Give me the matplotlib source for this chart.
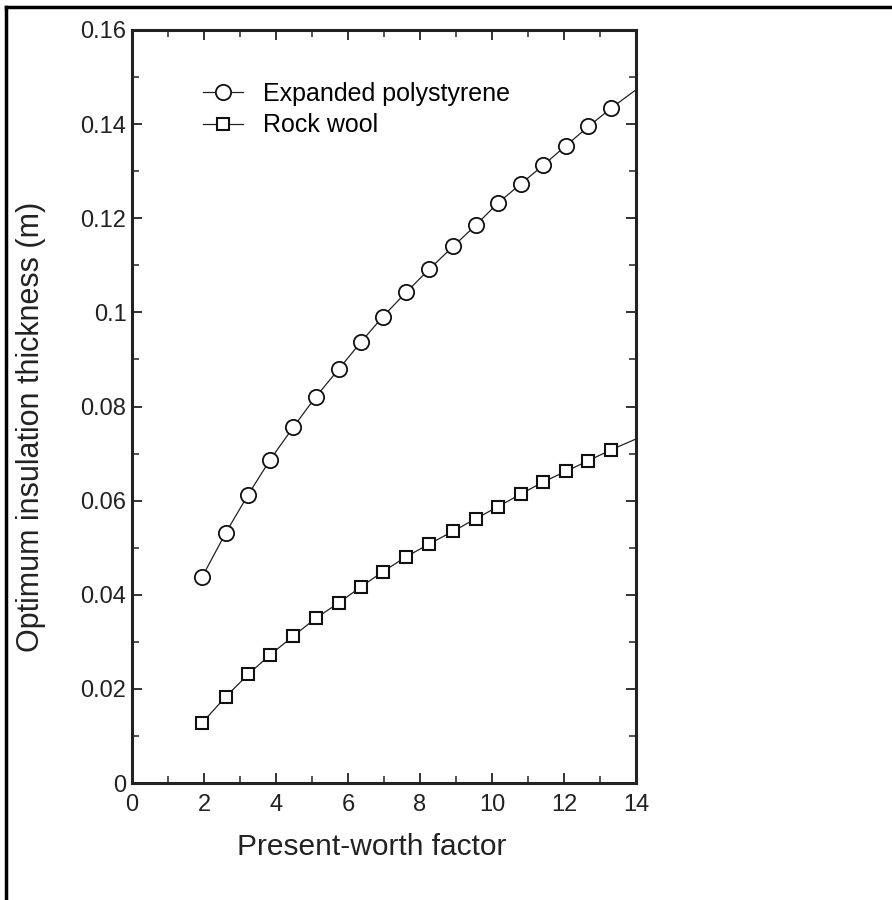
import matplotlib
matplotlib.use("Agg")
import matplotlib.pyplot as plt
from matplotlib.lines import Line2D
from matplotlib.ticker import MultipleLocator, FuncFormatter

plt.rcParams['font.family'] = ['Liberation Sans', 'DejaVu Sans']

# Present-worth factor (last value is where the curve meets the right axis, no marker)
pwf = [1.95, 2.6, 3.23, 3.83, 4.48, 5.1, 5.75, 6.36, 6.97, 7.62,
       8.26, 8.92, 9.56, 10.16, 10.8, 11.43, 12.05, 12.68, 13.31, 14.0]

# Optimum insulation thickness (m)
eps = [0.0438, 0.0531, 0.0613, 0.0686, 0.0756, 0.0820, 0.0880, 0.0937, 0.0991, 0.1043,
       0.1092, 0.1140, 0.1186, 0.1232, 0.1273, 0.1313, 0.1354, 0.1395, 0.1434, 0.1473]
rock_wool = [0.0128, 0.0183, 0.0231, 0.0272, 0.0312, 0.0350, 0.0383, 0.0417, 0.0449, 0.0481,
             0.0508, 0.0535, 0.0562, 0.0587, 0.0614, 0.0640, 0.0662, 0.0685, 0.0708, 0.0731]

labels = ["Expanded polystyrene", "Rock wool"]

fig = plt.figure(figsize=(8.92, 9.0), dpi=100)
ax = fig.add_axes([132 / 892, 1 - 783 / 900, 504 / 892, 753 / 900])

marks = list(range(len(pwf) - 1))
ax.plot(pwf, eps, color="#222222", lw=0.9, marker="o", ms=11, mfc="white",
        mec="#111111", mew=1.3, markevery=marks, label=labels[0])
ax.plot(pwf, rock_wool, color="#222222", lw=0.9, marker="s", ms=8.5, mfc="white",
        mec="#111111", mew=1.5, markevery=marks, label=labels[1])

ax.set_xlim(0, 14)
ax.set_ylim(0, 0.16)
ax.xaxis.set_major_locator(MultipleLocator(2))
ax.xaxis.set_minor_locator(MultipleLocator(1))
ax.yaxis.set_major_locator(MultipleLocator(0.02))
ax.yaxis.set_minor_locator(MultipleLocator(0.01))
ax.yaxis.set_major_formatter(FuncFormatter(lambda v, p: f"{v:.2f}".rstrip("0").rstrip(".") if v else "0"))

ax.tick_params(which="both", direction="in", top=True, right=True, color="#222222")
ax.tick_params(which="major", length=7, width=1.3)
ax.tick_params(which="minor", length=5, width=1.1)
ax.tick_params(axis="x", labelsize=17, pad=8, colors="#222222")
ax.tick_params(axis="y", labelsize=17, pad=4, colors="#222222")
for s in ax.spines.values():
    s.set_linewidth(2.2)
    s.set_color("#222222")

ax.set_xlabel("Present-worth factor", fontsize=21.5, color="#222222")
ax.xaxis.set_label_coords(0.475, -0.066)
ax.set_ylabel("Optimum insulation thickness (m)", fontsize=22, color="#222222")
ax.yaxis.set_label_coords(-0.17, 0.473)

ax.legend(loc="upper left", bbox_to_anchor=(0.141, 0.931), frameon=False, fontsize=18,
          borderpad=0, borderaxespad=0, handlelength=1.6, handletextpad=0.8,
          labelspacing=0.3)

# outer frame of the page (left and top edges visible)
fig.add_artist(Line2D([6 / 892, 6 / 892], [0, 1 - 7 / 900], transform=fig.transFigure,
                      color="black", lw=2.5))
fig.add_artist(Line2D([6 / 892, 1], [1 - 7 / 900, 1 - 7 / 900], transform=fig.transFigure,
                      color="black", lw=2.5))

fig.savefig("out.png", dpi=100)
